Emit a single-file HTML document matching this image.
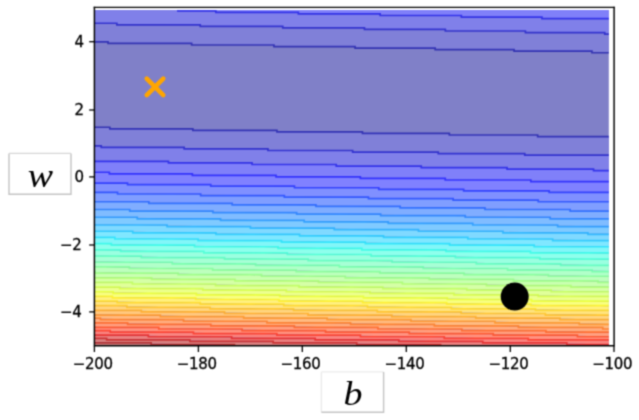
<!DOCTYPE html>
<html><head><meta charset="utf-8"><style>
html,body{margin:0;padding:0;background:#fff;}
body{width:639px;height:420px;position:relative;overflow:hidden;}
.t{font-family:"DejaVu Sans","Liberation Sans",sans-serif;font-size:15px;fill:#000;letter-spacing:-0.3px;stroke:#000;stroke-width:0.3px;}
.v{font-family:"Liberation Serif",serif;font-style:italic;font-size:33px;fill:#000;}
</style></head><body>
<svg width="639" height="420" viewBox="0 0 639 420" style="position:absolute;left:0;top:0">
<defs><filter id="soft" x="0" y="0" width="639" height="420" filterUnits="userSpaceOnUse" color-interpolation-filters="sRGB"><feConvolveMatrix order="3" kernelMatrix="1 3 1 3 9 3 1 3 1" divisor="25" edgeMode="duplicate"/></filter>
<clipPath id="cp"><rect x="94.4" y="10.0" width="514.50" height="335.70"/></clipPath></defs>
<g filter="url(#soft)"><rect x="0" y="0" width="639" height="420" fill="#fff"/>
<g clip-path="url(#cp)">
<polygon fill="#8080c8" points="94.40,10.00 608.90,10.00 608.90,345.70 94.40,345.70"/>
<polygon fill="#8080d8" points="92.40,127.47 114.94,127.90 137.49,128.32 160.03,128.74 182.57,129.16 205.12,129.58 227.66,130.00 250.20,130.41 272.75,130.83 295.29,131.24 317.83,131.65 340.38,132.06 362.92,132.46 385.47,132.87 408.01,133.27 430.55,133.67 453.10,134.07 475.64,134.47 498.18,134.87 520.73,135.26 543.27,135.66 565.81,136.05 588.36,136.44 610.90,136.83 610.90,155.71 588.36,155.31 565.81,154.91 543.27,154.51 520.73,154.11 498.18,153.71 475.64,153.31 453.10,152.90 430.55,152.49 408.01,152.09 385.47,151.68 362.92,151.27 340.38,150.86 317.83,150.44 295.29,150.03 272.75,149.62 250.20,149.20 227.66,148.78 205.12,148.37 182.57,147.95 160.03,147.53 137.49,147.10 114.94,146.68 92.40,146.26"/>
<polygon fill="#8080d8" points="92.40,42.15 114.94,42.57 137.49,42.98 160.03,43.40 182.57,43.82 205.12,44.25 227.66,44.67 250.20,45.09 272.75,45.52 295.29,45.95 317.83,46.38 340.38,46.81 362.92,47.25 385.47,47.68 408.01,48.12 430.55,48.56 453.10,49.00 475.64,49.44 498.18,49.89 520.73,50.33 543.27,50.78 565.81,51.23 588.36,51.68 610.90,52.13 610.90,33.25 588.36,32.81 565.81,32.36 543.27,31.92 520.73,31.48 498.18,31.05 475.64,30.61 453.10,30.17 430.55,29.74 408.01,29.31 385.47,28.87 362.92,28.44 340.38,28.01 317.83,27.58 295.29,27.16 272.75,26.73 250.20,26.31 227.66,25.88 205.12,25.46 182.57,25.04 160.03,24.62 137.49,24.20 114.94,23.78 92.40,23.36"/>
<polygon fill="#8080e9" points="92.40,146.26 114.94,146.68 137.49,147.10 160.03,147.53 182.57,147.95 205.12,148.37 227.66,148.78 250.20,149.20 272.75,149.62 295.29,150.03 317.83,150.44 340.38,150.86 362.92,151.27 385.47,151.68 408.01,152.09 430.55,152.49 453.10,152.90 475.64,153.31 498.18,153.71 520.73,154.11 543.27,154.51 565.81,154.91 588.36,155.31 610.90,155.71 610.90,170.01 588.36,169.61 565.81,169.21 543.27,168.80 520.73,168.40 498.18,167.99 475.64,167.59 453.10,167.18 430.55,166.77 408.01,166.36 385.47,165.95 362.92,165.54 340.38,165.12 317.83,164.71 295.29,164.29 272.75,163.88 250.20,163.46 227.66,163.04 205.12,162.63 182.57,162.21 160.03,161.79 137.49,161.36 114.94,160.94 92.40,160.52"/>
<polygon fill="#8080e9" points="92.40,23.36 114.94,23.78 137.49,24.20 160.03,24.62 182.57,25.04 205.12,25.46 227.66,25.88 250.20,26.31 272.75,26.73 295.29,27.16 317.83,27.58 340.38,28.01 362.92,28.44 385.47,28.87 408.01,29.31 430.55,29.74 453.10,30.17 475.64,30.61 498.18,31.05 520.73,31.48 543.27,31.92 565.81,32.36 588.36,32.81 610.90,33.25 610.90,18.95 588.36,18.51 565.81,18.07 543.27,17.63 520.73,17.20 498.18,16.76 475.64,16.33 453.10,15.90 430.55,15.47 408.01,15.03 385.47,14.60 362.92,14.18 340.38,13.75 317.83,13.32 295.29,12.89 272.75,12.47 250.20,12.04 227.66,11.62 205.12,11.20 182.57,10.78 160.03,10.36 137.49,9.94 114.94,9.52 92.40,9.10"/>
<polygon fill="#8080f9" points="92.40,160.52 114.94,160.94 137.49,161.36 160.03,161.79 182.57,162.21 205.12,162.63 227.66,163.04 250.20,163.46 272.75,163.88 295.29,164.29 317.83,164.71 340.38,165.12 362.92,165.54 385.47,165.95 408.01,166.36 430.55,166.77 453.10,167.18 475.64,167.59 498.18,167.99 520.73,168.40 543.27,168.80 565.81,169.21 588.36,169.61 610.90,170.01 610.90,182.01 588.36,181.60 565.81,181.20 543.27,180.79 520.73,180.38 498.18,179.98 475.64,179.57 453.10,179.16 430.55,178.75 408.01,178.34 385.47,177.92 362.92,177.51 340.38,177.10 317.83,176.68 295.29,176.27 272.75,175.85 250.20,175.43 227.66,175.02 205.12,174.60 182.57,174.18 160.03,173.76 137.49,173.34 114.94,172.91 92.40,172.49"/>
<polygon fill="#8080f9" points="92.40,9.10 114.94,9.52 137.49,9.94 160.03,10.36 182.57,10.78 205.12,11.20 227.66,11.62 250.20,12.04 272.75,12.47 295.29,12.89 317.83,13.32 340.38,13.75 362.92,14.18 385.47,14.60 408.01,15.03 430.55,15.47 453.10,15.90 475.64,16.33 498.18,16.76 520.73,17.20 543.27,17.63 565.81,18.07 588.36,18.51 610.90,18.95 610.90,6.95 588.36,6.52 565.81,6.08 543.27,5.65 520.73,5.21 498.18,4.78 475.64,4.35 453.10,3.92 430.55,3.49 408.01,3.06 385.47,2.63 362.92,2.20 340.38,1.77 317.83,1.35 295.29,0.92 272.75,0.50 250.20,0.07 227.66,-0.35 205.12,-0.77 182.57,-1.19 160.03,-1.61 137.49,-2.03 114.94,-2.45 92.40,-2.87"/>
<polygon fill="#8081ff" points="92.40,172.49 114.94,172.91 137.49,173.34 160.03,173.76 182.57,174.18 205.12,174.60 227.66,175.02 250.20,175.43 272.75,175.85 295.29,176.27 317.83,176.68 340.38,177.10 362.92,177.51 385.47,177.92 408.01,178.34 430.55,178.75 453.10,179.16 475.64,179.57 498.18,179.98 520.73,180.38 543.27,180.79 565.81,181.20 588.36,181.60 610.90,182.01 610.90,192.55 588.36,192.14 565.81,191.73 543.27,191.33 520.73,190.92 498.18,190.51 475.64,190.10 453.10,189.69 430.55,189.28 408.01,188.86 385.47,188.45 362.92,188.04 340.38,187.62 317.83,187.21 295.29,186.79 272.75,186.37 250.20,185.96 227.66,185.54 205.12,185.12 182.57,184.70 160.03,184.28 137.49,183.86 114.94,183.44 92.40,183.01"/>
<polygon fill="#8081ff" points="92.40,-2.87 114.94,-2.45 137.49,-2.03 160.03,-1.61 182.57,-1.19 205.12,-0.77 227.66,-0.35 250.20,0.07 272.75,0.50 295.29,0.92 317.83,1.35 340.38,1.77 362.92,2.20 385.47,2.63 408.01,3.06 430.55,3.49 453.10,3.92 475.64,4.35 498.18,4.78 520.73,5.21 543.27,5.65 565.81,6.08 588.36,6.52 610.90,6.95 610.90,-3.59 588.36,-4.02 565.81,-4.46 543.27,-4.89 520.73,-5.32 498.18,-5.75 475.64,-6.18 453.10,-6.61 430.55,-7.04 408.01,-7.47 385.47,-7.90 362.92,-8.33 340.38,-8.75 317.83,-9.18 295.29,-9.60 272.75,-10.03 250.20,-10.45 227.66,-10.87 205.12,-11.29 182.57,-11.72 160.03,-12.14 137.49,-12.56 114.94,-12.97 92.40,-13.39"/>
<polygon fill="#8090ff" points="92.40,183.01 114.94,183.44 137.49,183.86 160.03,184.28 182.57,184.70 205.12,185.12 227.66,185.54 250.20,185.96 272.75,186.37 295.29,186.79 317.83,187.21 340.38,187.62 362.92,188.04 385.47,188.45 408.01,188.86 430.55,189.28 453.10,189.69 475.64,190.10 498.18,190.51 520.73,190.92 543.27,191.33 565.81,191.73 588.36,192.14 610.90,192.55 610.90,202.06 588.36,201.65 565.81,201.24 543.27,200.83 520.73,200.42 498.18,200.01 475.64,199.60 453.10,199.19 430.55,198.78 408.01,198.37 385.47,197.95 362.92,197.54 340.38,197.12 317.83,196.71 295.29,196.29 272.75,195.87 250.20,195.46 227.66,195.04 205.12,194.62 182.57,194.20 160.03,193.78 137.49,193.36 114.94,192.94 92.40,192.51"/>
<polygon fill="#809eff" points="92.40,192.51 114.94,192.94 137.49,193.36 160.03,193.78 182.57,194.20 205.12,194.62 227.66,195.04 250.20,195.46 272.75,195.87 295.29,196.29 317.83,196.71 340.38,197.12 362.92,197.54 385.47,197.95 408.01,198.37 430.55,198.78 453.10,199.19 475.64,199.60 498.18,200.01 520.73,200.42 543.27,200.83 565.81,201.24 588.36,201.65 610.90,202.06 610.90,210.80 588.36,210.39 565.81,209.98 543.27,209.57 520.73,209.16 498.18,208.75 475.64,208.33 453.10,207.92 430.55,207.51 408.01,207.10 385.47,206.68 362.92,206.27 340.38,205.85 317.83,205.43 295.29,205.02 272.75,204.60 250.20,204.18 227.66,203.76 205.12,203.35 182.57,202.93 160.03,202.51 137.49,202.08 114.94,201.66 92.40,201.24"/>
<polygon fill="#80adff" points="92.40,201.24 114.94,201.66 137.49,202.08 160.03,202.51 182.57,202.93 205.12,203.35 227.66,203.76 250.20,204.18 272.75,204.60 295.29,205.02 317.83,205.43 340.38,205.85 362.92,206.27 385.47,206.68 408.01,207.10 430.55,207.51 453.10,207.92 475.64,208.33 498.18,208.75 520.73,209.16 543.27,209.57 565.81,209.98 588.36,210.39 610.90,210.80 610.90,218.92 588.36,218.51 565.81,218.10 543.27,217.69 520.73,217.28 498.18,216.87 475.64,216.45 453.10,216.04 430.55,215.63 408.01,215.21 385.47,214.80 362.92,214.38 340.38,213.97 317.83,213.55 295.29,213.14 272.75,212.72 250.20,212.30 227.66,211.88 205.12,211.46 182.57,211.04 160.03,210.62 137.49,210.20 114.94,209.78 92.40,209.36"/>
<polygon fill="#80bcff" points="92.40,209.36 114.94,209.78 137.49,210.20 160.03,210.62 182.57,211.04 205.12,211.46 227.66,211.88 250.20,212.30 272.75,212.72 295.29,213.14 317.83,213.55 340.38,213.97 362.92,214.38 385.47,214.80 408.01,215.21 430.55,215.63 453.10,216.04 475.64,216.45 498.18,216.87 520.73,217.28 543.27,217.69 565.81,218.10 588.36,218.51 610.90,218.92 610.90,226.55 588.36,226.14 565.81,225.73 543.27,225.31 520.73,224.90 498.18,224.49 475.64,224.08 453.10,223.66 430.55,223.25 408.01,222.84 385.47,222.42 362.92,222.01 340.38,221.59 317.83,221.17 295.29,220.76 272.75,220.34 250.20,219.92 227.66,219.50 205.12,219.08 182.57,218.66 160.03,218.24 137.49,217.82 114.94,217.40 92.40,216.98"/>
<polygon fill="#80caff" points="92.40,216.98 114.94,217.40 137.49,217.82 160.03,218.24 182.57,218.66 205.12,219.08 227.66,219.50 250.20,219.92 272.75,220.34 295.29,220.76 317.83,221.17 340.38,221.59 362.92,222.01 385.47,222.42 408.01,222.84 430.55,223.25 453.10,223.66 475.64,224.08 498.18,224.49 520.73,224.90 543.27,225.31 565.81,225.73 588.36,226.14 610.90,226.55 610.90,233.75 588.36,233.34 565.81,232.93 543.27,232.52 520.73,232.11 498.18,231.70 475.64,231.28 453.10,230.87 430.55,230.46 408.01,230.04 385.47,229.63 362.92,229.21 340.38,228.79 317.83,228.38 295.29,227.96 272.75,227.54 250.20,227.12 227.66,226.70 205.12,226.28 182.57,225.86 160.03,225.44 137.49,225.02 114.94,224.60 92.40,224.18"/>
<polygon fill="#80d9ff" points="92.40,224.18 114.94,224.60 137.49,225.02 160.03,225.44 182.57,225.86 205.12,226.28 227.66,226.70 250.20,227.12 272.75,227.54 295.29,227.96 317.83,228.38 340.38,228.79 362.92,229.21 385.47,229.63 408.01,230.04 430.55,230.46 453.10,230.87 475.64,231.28 498.18,231.70 520.73,232.11 543.27,232.52 565.81,232.93 588.36,233.34 610.90,233.75 610.90,240.61 588.36,240.20 565.81,239.79 543.27,239.37 520.73,238.96 498.18,238.55 475.64,238.13 453.10,237.72 430.55,237.31 408.01,236.89 385.47,236.48 362.92,236.06 340.38,235.64 317.83,235.23 295.29,234.81 272.75,234.39 250.20,233.97 227.66,233.55 205.12,233.13 182.57,232.71 160.03,232.29 137.49,231.87 114.94,231.45 92.40,231.03"/>
<polygon fill="#80e7ff" points="92.40,231.03 114.94,231.45 137.49,231.87 160.03,232.29 182.57,232.71 205.12,233.13 227.66,233.55 250.20,233.97 272.75,234.39 295.29,234.81 317.83,235.23 340.38,235.64 362.92,236.06 385.47,236.48 408.01,236.89 430.55,237.31 453.10,237.72 475.64,238.13 498.18,238.55 520.73,238.96 543.27,239.37 565.81,239.79 588.36,240.20 610.90,240.61 610.90,247.15 588.36,246.74 565.81,246.33 543.27,245.92 520.73,245.51 498.18,245.09 475.64,244.68 453.10,244.26 430.55,243.85 408.01,243.43 385.47,243.02 362.92,242.60 340.38,242.19 317.83,241.77 295.29,241.35 272.75,240.93 250.20,240.51 227.66,240.10 205.12,239.68 182.57,239.26 160.03,238.84 137.49,238.41 114.94,237.99 92.40,237.57"/>
<polygon fill="#82f6f8" points="92.40,237.57 114.94,237.99 137.49,238.41 160.03,238.84 182.57,239.26 205.12,239.68 227.66,240.10 250.20,240.51 272.75,240.93 295.29,241.35 317.83,241.77 340.38,242.19 362.92,242.60 385.47,243.02 408.01,243.43 430.55,243.85 453.10,244.26 475.64,244.68 498.18,245.09 520.73,245.51 543.27,245.92 565.81,246.33 588.36,246.74 610.90,247.15 610.90,253.43 588.36,253.02 565.81,252.61 543.27,252.19 520.73,251.78 498.18,251.37 475.64,250.95 453.10,250.54 430.55,250.12 408.01,249.71 385.47,249.29 362.92,248.88 340.38,248.46 317.83,248.04 295.29,247.62 272.75,247.21 250.20,246.79 227.66,246.37 205.12,245.95 182.57,245.53 160.03,245.11 137.49,244.69 114.94,244.27 92.40,243.84"/>
<polygon fill="#8effec" points="92.40,243.84 114.94,244.27 137.49,244.69 160.03,245.11 182.57,245.53 205.12,245.95 227.66,246.37 250.20,246.79 272.75,247.21 295.29,247.62 317.83,248.04 340.38,248.46 362.92,248.88 385.47,249.29 408.01,249.71 430.55,250.12 453.10,250.54 475.64,250.95 498.18,251.37 520.73,251.78 543.27,252.19 565.81,252.61 588.36,253.02 610.90,253.43 610.90,259.47 588.36,259.06 565.81,258.64 543.27,258.23 520.73,257.82 498.18,257.40 475.64,256.99 453.10,256.58 430.55,256.16 408.01,255.74 385.47,255.33 362.92,254.91 340.38,254.49 317.83,254.08 295.29,253.66 272.75,253.24 250.20,252.82 227.66,252.40 205.12,251.98 182.57,251.56 160.03,251.14 137.49,250.72 114.94,250.30 92.40,249.88"/>
<polygon fill="#9affe0" points="92.40,249.88 114.94,250.30 137.49,250.72 160.03,251.14 182.57,251.56 205.12,251.98 227.66,252.40 250.20,252.82 272.75,253.24 295.29,253.66 317.83,254.08 340.38,254.49 362.92,254.91 385.47,255.33 408.01,255.74 430.55,256.16 453.10,256.58 475.64,256.99 498.18,257.40 520.73,257.82 543.27,258.23 565.81,258.64 588.36,259.06 610.90,259.47 610.90,265.29 588.36,264.88 565.81,264.47 543.27,264.06 520.73,263.64 498.18,263.23 475.64,262.81 453.10,262.40 430.55,261.98 408.01,261.57 385.47,261.15 362.92,260.73 340.38,260.32 317.83,259.90 295.29,259.48 272.75,259.06 250.20,258.64 227.66,258.23 205.12,257.81 182.57,257.39 160.03,256.97 137.49,256.55 114.94,256.12 92.40,255.70"/>
<polygon fill="#a6ffd5" points="92.40,255.70 114.94,256.12 137.49,256.55 160.03,256.97 182.57,257.39 205.12,257.81 227.66,258.23 250.20,258.64 272.75,259.06 295.29,259.48 317.83,259.90 340.38,260.32 362.92,260.73 385.47,261.15 408.01,261.57 430.55,261.98 453.10,262.40 475.64,262.81 498.18,263.23 520.73,263.64 543.27,264.06 565.81,264.47 588.36,264.88 610.90,265.29 610.90,270.93 588.36,270.51 565.81,270.10 543.27,269.69 520.73,269.27 498.18,268.86 475.64,268.44 453.10,268.03 430.55,267.61 408.01,267.20 385.47,266.78 362.92,266.36 340.38,265.95 317.83,265.53 295.29,265.11 272.75,264.69 250.20,264.28 227.66,263.86 205.12,263.44 182.57,263.02 160.03,262.60 137.49,262.18 114.94,261.75 92.40,261.33"/>
<polygon fill="#b1ffc9" points="92.40,261.33 114.94,261.75 137.49,262.18 160.03,262.60 182.57,263.02 205.12,263.44 227.66,263.86 250.20,264.28 272.75,264.69 295.29,265.11 317.83,265.53 340.38,265.95 362.92,266.36 385.47,266.78 408.01,267.20 430.55,267.61 453.10,268.03 475.64,268.44 498.18,268.86 520.73,269.27 543.27,269.69 565.81,270.10 588.36,270.51 610.90,270.93 610.90,276.38 588.36,275.97 565.81,275.56 543.27,275.15 520.73,274.73 498.18,274.32 475.64,273.90 453.10,273.49 430.55,273.07 408.01,272.65 385.47,272.24 362.92,271.82 340.38,271.40 317.83,270.99 295.29,270.57 272.75,270.15 250.20,269.73 227.66,269.31 205.12,268.89 182.57,268.47 160.03,268.05 137.49,267.63 114.94,267.21 92.40,266.79"/>
<polygon fill="#bdffbd" points="92.40,266.79 114.94,267.21 137.49,267.63 160.03,268.05 182.57,268.47 205.12,268.89 227.66,269.31 250.20,269.73 272.75,270.15 295.29,270.57 317.83,270.99 340.38,271.40 362.92,271.82 385.47,272.24 408.01,272.65 430.55,273.07 453.10,273.49 475.64,273.90 498.18,274.32 520.73,274.73 543.27,275.15 565.81,275.56 588.36,275.97 610.90,276.38 610.90,281.68 588.36,281.27 565.81,280.86 543.27,280.44 520.73,280.03 498.18,279.61 475.64,279.20 453.10,278.78 430.55,278.37 408.01,277.95 385.47,277.54 362.92,277.12 340.38,276.70 317.83,276.28 295.29,275.87 272.75,275.45 250.20,275.03 227.66,274.61 205.12,274.19 182.57,273.77 160.03,273.35 137.49,272.93 114.94,272.51 92.40,272.09"/>
<polygon fill="#c9ffb1" points="92.40,272.09 114.94,272.51 137.49,272.93 160.03,273.35 182.57,273.77 205.12,274.19 227.66,274.61 250.20,275.03 272.75,275.45 295.29,275.87 317.83,276.28 340.38,276.70 362.92,277.12 385.47,277.54 408.01,277.95 430.55,278.37 453.10,278.78 475.64,279.20 498.18,279.61 520.73,280.03 543.27,280.44 565.81,280.86 588.36,281.27 610.90,281.68 610.90,286.84 588.36,286.42 565.81,286.01 543.27,285.60 520.73,285.18 498.18,284.77 475.64,284.35 453.10,283.94 430.55,283.52 408.01,283.10 385.47,282.69 362.92,282.27 340.38,281.85 317.83,281.44 295.29,281.02 272.75,280.60 250.20,280.18 227.66,279.76 205.12,279.34 182.57,278.92 160.03,278.50 137.49,278.08 114.94,277.66 92.40,277.24"/>
<polygon fill="#d5ffa6" points="92.40,277.24 114.94,277.66 137.49,278.08 160.03,278.50 182.57,278.92 205.12,279.34 227.66,279.76 250.20,280.18 272.75,280.60 295.29,281.02 317.83,281.44 340.38,281.85 362.92,282.27 385.47,282.69 408.01,283.10 430.55,283.52 453.10,283.94 475.64,284.35 498.18,284.77 520.73,285.18 543.27,285.60 565.81,286.01 588.36,286.42 610.90,286.84 610.90,291.86 588.36,291.44 565.81,291.03 543.27,290.61 520.73,290.20 498.18,289.79 475.64,289.37 453.10,288.95 430.55,288.54 408.01,288.12 385.47,287.71 362.92,287.29 340.38,286.87 317.83,286.45 295.29,286.03 272.75,285.62 250.20,285.20 227.66,284.78 205.12,284.36 182.57,283.94 160.03,283.52 137.49,283.10 114.94,282.68 92.40,282.25"/>
<polygon fill="#e0ff9a" points="92.40,282.25 114.94,282.68 137.49,283.10 160.03,283.52 182.57,283.94 205.12,284.36 227.66,284.78 250.20,285.20 272.75,285.62 295.29,286.03 317.83,286.45 340.38,286.87 362.92,287.29 385.47,287.71 408.01,288.12 430.55,288.54 453.10,288.95 475.64,289.37 498.18,289.79 520.73,290.20 543.27,290.61 565.81,291.03 588.36,291.44 610.90,291.86 610.90,296.75 588.36,296.34 565.81,295.92 543.27,295.51 520.73,295.09 498.18,294.68 475.64,294.26 453.10,293.85 430.55,293.43 408.01,293.02 385.47,292.60 362.92,292.18 340.38,291.76 317.83,291.35 295.29,290.93 272.75,290.51 250.20,290.09 227.66,289.67 205.12,289.25 182.57,288.83 160.03,288.41 137.49,287.99 114.94,287.57 92.40,287.15"/>
<polygon fill="#ecff8e" points="92.40,287.15 114.94,287.57 137.49,287.99 160.03,288.41 182.57,288.83 205.12,289.25 227.66,289.67 250.20,290.09 272.75,290.51 295.29,290.93 317.83,291.35 340.38,291.76 362.92,292.18 385.47,292.60 408.01,293.02 430.55,293.43 453.10,293.85 475.64,294.26 498.18,294.68 520.73,295.09 543.27,295.51 565.81,295.92 588.36,296.34 610.90,296.75 610.90,301.53 588.36,301.12 565.81,300.70 543.27,300.29 520.73,299.87 498.18,299.46 475.64,299.04 453.10,298.63 430.55,298.21 408.01,297.79 385.47,297.38 362.92,296.96 340.38,296.54 317.83,296.12 295.29,295.70 272.75,295.29 250.20,294.87 227.66,294.45 205.12,294.03 182.57,293.61 160.03,293.19 137.49,292.77 114.94,292.35 92.40,291.92"/>
<polygon fill="#f8fe82" points="92.40,291.92 114.94,292.35 137.49,292.77 160.03,293.19 182.57,293.61 205.12,294.03 227.66,294.45 250.20,294.87 272.75,295.29 295.29,295.70 317.83,296.12 340.38,296.54 362.92,296.96 385.47,297.38 408.01,297.79 430.55,298.21 453.10,298.63 475.64,299.04 498.18,299.46 520.73,299.87 543.27,300.29 565.81,300.70 588.36,301.12 610.90,301.53 610.90,306.20 588.36,305.79 565.81,305.37 543.27,304.96 520.73,304.54 498.18,304.13 475.64,303.71 453.10,303.30 430.55,302.88 408.01,302.46 385.47,302.05 362.92,301.63 340.38,301.21 317.83,300.79 295.29,300.37 272.75,299.96 250.20,299.54 227.66,299.12 205.12,298.70 182.57,298.28 160.03,297.86 137.49,297.44 114.94,297.01 92.40,296.59"/>
<polygon fill="#fff080" points="92.40,296.59 114.94,297.01 137.49,297.44 160.03,297.86 182.57,298.28 205.12,298.70 227.66,299.12 250.20,299.54 272.75,299.96 295.29,300.37 317.83,300.79 340.38,301.21 362.92,301.63 385.47,302.05 408.01,302.46 430.55,302.88 453.10,303.30 475.64,303.71 498.18,304.13 520.73,304.54 543.27,304.96 565.81,305.37 588.36,305.79 610.90,306.20 610.90,310.77 588.36,310.36 565.81,309.94 543.27,309.53 520.73,309.11 498.18,308.70 475.64,308.28 453.10,307.86 430.55,307.45 408.01,307.03 385.47,306.61 362.92,306.20 340.38,305.78 317.83,305.36 295.29,304.94 272.75,304.52 250.20,304.10 227.66,303.69 205.12,303.27 182.57,302.85 160.03,302.43 137.49,302.00 114.94,301.58 92.40,301.16"/>
<polygon fill="#ffe380" points="92.40,301.16 114.94,301.58 137.49,302.00 160.03,302.43 182.57,302.85 205.12,303.27 227.66,303.69 250.20,304.10 272.75,304.52 295.29,304.94 317.83,305.36 340.38,305.78 362.92,306.20 385.47,306.61 408.01,307.03 430.55,307.45 453.10,307.86 475.64,308.28 498.18,308.70 520.73,309.11 543.27,309.53 565.81,309.94 588.36,310.36 610.90,310.77 610.90,315.25 588.36,314.83 565.81,314.42 543.27,314.00 520.73,313.59 498.18,313.17 475.64,312.76 453.10,312.34 430.55,311.92 408.01,311.51 385.47,311.09 362.92,310.67 340.38,310.25 317.83,309.84 295.29,309.42 272.75,309.00 250.20,308.58 227.66,308.16 205.12,307.74 182.57,307.32 160.03,306.90 137.49,306.48 114.94,306.06 92.40,305.64"/>
<polygon fill="#ffd580" points="92.40,305.64 114.94,306.06 137.49,306.48 160.03,306.90 182.57,307.32 205.12,307.74 227.66,308.16 250.20,308.58 272.75,309.00 295.29,309.42 317.83,309.84 340.38,310.25 362.92,310.67 385.47,311.09 408.01,311.51 430.55,311.92 453.10,312.34 475.64,312.76 498.18,313.17 520.73,313.59 543.27,314.00 565.81,314.42 588.36,314.83 610.90,315.25 610.90,319.63 588.36,319.22 565.81,318.80 543.27,318.39 520.73,317.97 498.18,317.56 475.64,317.14 453.10,316.73 430.55,316.31 408.01,315.89 385.47,315.47 362.92,315.06 340.38,314.64 317.83,314.22 295.29,313.80 272.75,313.38 250.20,312.96 227.66,312.55 205.12,312.13 182.57,311.71 160.03,311.28 137.49,310.86 114.94,310.44 92.40,310.02"/>
<polygon fill="#ffc880" points="92.40,310.02 114.94,310.44 137.49,310.86 160.03,311.28 182.57,311.71 205.12,312.13 227.66,312.55 250.20,312.96 272.75,313.38 295.29,313.80 317.83,314.22 340.38,314.64 362.92,315.06 385.47,315.47 408.01,315.89 430.55,316.31 453.10,316.73 475.64,317.14 498.18,317.56 520.73,317.97 543.27,318.39 565.81,318.80 588.36,319.22 610.90,319.63 610.90,323.93 588.36,323.52 565.81,323.11 543.27,322.69 520.73,322.28 498.18,321.86 475.64,321.44 453.10,321.03 430.55,320.61 408.01,320.19 385.47,319.78 362.92,319.36 340.38,318.94 317.83,318.52 295.29,318.10 272.75,317.69 250.20,317.27 227.66,316.85 205.12,316.43 182.57,316.01 160.03,315.59 137.49,315.17 114.94,314.74 92.40,314.32"/>
<polygon fill="#ffba80" points="92.40,314.32 114.94,314.74 137.49,315.17 160.03,315.59 182.57,316.01 205.12,316.43 227.66,316.85 250.20,317.27 272.75,317.69 295.29,318.10 317.83,318.52 340.38,318.94 362.92,319.36 385.47,319.78 408.01,320.19 430.55,320.61 453.10,321.03 475.64,321.44 498.18,321.86 520.73,322.28 543.27,322.69 565.81,323.11 588.36,323.52 610.90,323.93 610.90,328.16 588.36,327.74 565.81,327.33 543.27,326.91 520.73,326.50 498.18,326.08 475.64,325.67 453.10,325.25 430.55,324.83 408.01,324.42 385.47,324.00 362.92,323.58 340.38,323.16 317.83,322.74 295.29,322.33 272.75,321.91 250.20,321.49 227.66,321.07 205.12,320.65 182.57,320.23 160.03,319.81 137.49,319.39 114.94,318.97 92.40,318.55"/>
<polygon fill="#ffad80" points="92.40,318.55 114.94,318.97 137.49,319.39 160.03,319.81 182.57,320.23 205.12,320.65 227.66,321.07 250.20,321.49 272.75,321.91 295.29,322.33 317.83,322.74 340.38,323.16 362.92,323.58 385.47,324.00 408.01,324.42 430.55,324.83 453.10,325.25 475.64,325.67 498.18,326.08 520.73,326.50 543.27,326.91 565.81,327.33 588.36,327.74 610.90,328.16 610.90,332.31 588.36,331.89 565.81,331.48 543.27,331.06 520.73,330.65 498.18,330.23 475.64,329.81 453.10,329.40 430.55,328.98 408.01,328.56 385.47,328.15 362.92,327.73 340.38,327.31 317.83,326.89 295.29,326.47 272.75,326.06 250.20,325.64 227.66,325.22 205.12,324.80 182.57,324.38 160.03,323.96 137.49,323.54 114.94,323.11 92.40,322.69"/>
<polygon fill="#ff9f80" points="92.40,322.69 114.94,323.11 137.49,323.54 160.03,323.96 182.57,324.38 205.12,324.80 227.66,325.22 250.20,325.64 272.75,326.06 295.29,326.47 317.83,326.89 340.38,327.31 362.92,327.73 385.47,328.15 408.01,328.56 430.55,328.98 453.10,329.40 475.64,329.81 498.18,330.23 520.73,330.65 543.27,331.06 565.81,331.48 588.36,331.89 610.90,332.31 610.90,336.38 588.36,335.97 565.81,335.55 543.27,335.14 520.73,334.72 498.18,334.31 475.64,333.89 453.10,333.47 430.55,333.06 408.01,332.64 385.47,332.22 362.92,331.81 340.38,331.39 317.83,330.97 295.29,330.55 272.75,330.13 250.20,329.71 227.66,329.29 205.12,328.87 182.57,328.45 160.03,328.03 137.49,327.61 114.94,327.19 92.40,326.77"/>
<polygon fill="#ff9280" points="92.40,326.77 114.94,327.19 137.49,327.61 160.03,328.03 182.57,328.45 205.12,328.87 227.66,329.29 250.20,329.71 272.75,330.13 295.29,330.55 317.83,330.97 340.38,331.39 362.92,331.81 385.47,332.22 408.01,332.64 430.55,333.06 453.10,333.47 475.64,333.89 498.18,334.31 520.73,334.72 543.27,335.14 565.81,335.55 588.36,335.97 610.90,336.38 610.90,340.39 588.36,339.98 565.81,339.56 543.27,339.15 520.73,338.73 498.18,338.32 475.64,337.90 453.10,337.48 430.55,337.07 408.01,336.65 385.47,336.23 362.92,335.81 340.38,335.40 317.83,334.98 295.29,334.56 272.75,334.14 250.20,333.72 227.66,333.30 205.12,332.88 182.57,332.46 160.03,332.04 137.49,331.62 114.94,331.20 92.40,330.78"/>
<polygon fill="#f98480" points="92.40,330.78 114.94,331.20 137.49,331.62 160.03,332.04 182.57,332.46 205.12,332.88 227.66,333.30 250.20,333.72 272.75,334.14 295.29,334.56 317.83,334.98 340.38,335.40 362.92,335.81 385.47,336.23 408.01,336.65 430.55,337.07 453.10,337.48 475.64,337.90 498.18,338.32 520.73,338.73 543.27,339.15 565.81,339.56 588.36,339.98 610.90,340.39 610.90,344.34 588.36,343.92 565.81,343.51 543.27,343.09 520.73,342.68 498.18,342.26 475.64,341.85 453.10,341.43 430.55,341.01 408.01,340.59 385.47,340.18 362.92,339.76 340.38,339.34 317.83,338.92 295.29,338.50 272.75,338.08 250.20,337.67 227.66,337.25 205.12,336.83 182.57,336.41 160.03,335.99 137.49,335.56 114.94,335.14 92.40,334.72"/>
<polygon fill="#e98080" points="92.40,334.72 114.94,335.14 137.49,335.56 160.03,335.99 182.57,336.41 205.12,336.83 227.66,337.25 250.20,337.67 272.75,338.08 295.29,338.50 317.83,338.92 340.38,339.34 362.92,339.76 385.47,340.18 408.01,340.59 430.55,341.01 453.10,341.43 475.64,341.85 498.18,342.26 520.73,342.68 543.27,343.09 565.81,343.51 588.36,343.92 610.90,344.34 610.90,348.22 588.36,347.81 565.81,347.39 543.27,346.98 520.73,346.56 498.18,346.15 475.64,345.73 453.10,345.31 430.55,344.90 408.01,344.48 385.47,344.06 362.92,343.64 340.38,343.22 317.83,342.81 295.29,342.39 272.75,341.97 250.20,341.55 227.66,341.13 205.12,340.71 182.57,340.29 160.03,339.87 137.49,339.45 114.94,339.03 92.40,338.61"/>
<polygon fill="#d88080" points="92.40,338.61 114.94,339.03 137.49,339.45 160.03,339.87 182.57,340.29 205.12,340.71 227.66,341.13 250.20,341.55 272.75,341.97 295.29,342.39 317.83,342.81 340.38,343.22 362.92,343.64 385.47,344.06 408.01,344.48 430.55,344.90 453.10,345.31 475.64,345.73 498.18,346.15 520.73,346.56 543.27,346.98 565.81,347.39 588.36,347.81 610.90,348.22 610.90,352.05 588.36,351.63 565.81,351.22 543.27,350.80 520.73,350.39 498.18,349.97 475.64,349.55 453.10,349.14 430.55,348.72 408.01,348.30 385.47,347.89 362.92,347.47 340.38,347.05 317.83,346.63 295.29,346.21 272.75,345.79 250.20,345.37 227.66,344.95 205.12,344.53 182.57,344.11 160.03,343.69 137.49,343.27 114.94,342.85 92.40,342.43"/>
<polygon fill="#c88080" points="92.40,342.43 114.94,342.85 137.49,343.27 160.03,343.69 182.57,344.11 205.12,344.53 227.66,344.95 250.20,345.37 272.75,345.79 295.29,346.21 317.83,346.63 340.38,347.05 362.92,347.47 385.47,347.89 408.01,348.30 430.55,348.72 453.10,349.14 475.64,349.55 498.18,349.97 520.73,350.39 543.27,350.80 565.81,351.22 588.36,351.63 610.90,352.05 610.90,355.82 588.36,355.40 565.81,354.99 543.27,354.57 520.73,354.16 498.18,353.74 475.64,353.32 453.10,352.91 430.55,352.49 408.01,352.07 385.47,351.65 362.92,351.24 340.38,350.82 317.83,350.40 295.29,349.98 272.75,349.56 250.20,349.14 227.66,348.72 205.12,348.30 182.57,347.88 160.03,347.46 137.49,347.04 114.94,346.62 92.40,346.20"/>
<path d="M92.40,127.24L109.85,127.24L109.85,128.80L192.85,128.80L192.85,130.35L276.95,130.35L276.95,131.90L362.45,131.90L362.45,133.45L449.35,133.45L449.35,135.00L537.65,135.00L537.65,136.56L610.90,136.56" stroke="#0000a1" stroke-opacity="0.6" stroke-width="1.7" fill="none"/>
<path d="M92.40,41.88L108.05,41.88L108.05,43.44L191.65,43.44L191.65,44.99L273.95,44.99L273.95,46.54L355.05,46.54L355.05,48.09L435.15,48.09L435.15,49.64L514.05,49.64L514.05,51.20L591.95,51.20L591.95,52.75L610.90,52.75" stroke="#0000a1" stroke-opacity="0.6" stroke-width="1.7" fill="none"/>
<path d="M92.40,145.87L101.25,145.87L101.25,147.42L184.15,147.42L184.15,148.97L267.95,148.97L267.95,150.52L352.65,150.52L352.65,152.08L438.25,152.08L438.25,153.63L524.75,153.63L524.75,155.18L610.90,155.18" stroke="#0000c2" stroke-opacity="0.6" stroke-width="1.7" fill="none"/>
<path d="M92.40,23.26L116.85,23.26L116.85,24.81L200.25,24.81L200.25,26.36L282.75,26.36L282.75,27.92L364.45,27.92L364.45,29.47L445.35,29.47L445.35,31.02L525.45,31.02L525.45,32.57L604.75,32.57L604.75,34.12L610.90,34.12" stroke="#0000c2" stroke-opacity="0.6" stroke-width="1.7" fill="none"/>
<path d="M92.40,161.39L168.45,161.39L168.45,162.94L252.05,162.94L252.05,164.49L336.25,164.49L336.25,166.04L421.25,166.04L421.25,167.60L507.05,167.60L507.05,169.15L593.55,169.15L593.55,170.70L610.90,170.70" stroke="#0000e3" stroke-opacity="0.6" stroke-width="1.7" fill="none"/>
<path d="M177.00,10.84L215.85,10.84L215.85,12.40L298.35,12.40L298.35,13.95L380.15,13.95L380.15,15.50L461.35,15.50L461.35,17.05L541.95,17.05L541.95,18.60L610.90,18.60" stroke="#0000e3" stroke-opacity="0.6" stroke-width="1.7" fill="none"/>
<path d="M92.40,172.25L109.35,172.25L109.35,173.80L192.35,173.80L192.35,175.36L276.05,175.36L276.05,176.91L360.35,176.91L360.35,178.46L445.25,178.46L445.25,180.01L530.85,180.01L530.85,181.56L610.90,181.56" stroke="#0000ff" stroke-opacity="0.6" stroke-width="1.7" fill="none"/>
<path d="M92.40,183.12L127.55,183.12L127.55,184.67L210.75,184.67L210.75,186.22L294.45,186.22L294.45,187.77L378.75,187.77L378.75,189.32L463.65,189.32L463.65,190.88L549.15,190.88L549.15,192.43L610.90,192.43" stroke="#0012ff" stroke-opacity="0.6" stroke-width="1.7" fill="none"/>
<path d="M92.40,192.43L117.55,192.43L117.55,193.98L200.65,193.98L200.65,195.53L284.35,195.53L284.35,197.08L368.45,197.08L368.45,198.64L453.15,198.64L453.15,200.19L538.25,200.19L538.25,201.74L610.90,201.74" stroke="#002fff" stroke-opacity="0.6" stroke-width="1.7" fill="none"/>
<path d="M92.40,201.74L148.85,201.74L148.85,203.29L232.15,203.29L232.15,204.84L315.95,204.84L315.95,206.40L400.15,206.40L400.15,207.95L484.95,207.95L484.95,209.50L570.15,209.50L570.15,211.05L610.90,211.05" stroke="#004dff" stroke-opacity="0.6" stroke-width="1.7" fill="none"/>
<path d="M92.40,209.50L129.75,209.50L129.75,211.05L212.95,211.05L212.95,212.60L296.65,212.60L296.65,214.16L380.65,214.16L380.65,215.71L465.25,215.71L465.25,217.26L550.15,217.26L550.15,218.81L610.90,218.81" stroke="#006aff" stroke-opacity="0.6" stroke-width="1.7" fill="none"/>
<path d="M92.40,217.26L137.25,217.26L137.25,218.81L220.55,218.81L220.55,220.36L304.15,220.36L304.15,221.92L388.25,221.92L388.25,223.47L472.75,223.47L472.75,225.02L557.65,225.02L557.65,226.57L610.90,226.57" stroke="#0087ff" stroke-opacity="0.6" stroke-width="1.7" fill="none"/>
<path d="M92.40,225.02L167.05,225.02L167.05,226.57L250.45,226.57L250.45,228.12L334.25,228.12L334.25,229.68L418.45,229.68L418.45,231.23L502.95,231.23L502.95,232.78L587.95,232.78L587.95,234.33L610.90,234.33" stroke="#00a4ff" stroke-opacity="0.6" stroke-width="1.7" fill="none"/>
<path d="M92.40,231.23L132.75,231.23L132.75,232.78L215.95,232.78L215.95,234.33L299.55,234.33L299.55,235.88L383.55,235.88L383.55,237.44L467.85,237.44L467.85,238.99L552.65,238.99L552.65,240.54L610.90,240.54" stroke="#00c1ff" stroke-opacity="0.6" stroke-width="1.7" fill="none"/>
<path d="M92.40,237.44L114.85,237.44L114.85,238.99L198.05,238.99L198.05,240.54L281.55,240.54L281.55,242.09L365.35,242.09L365.35,243.64L449.65,243.64L449.65,245.20L534.15,245.20L534.15,246.75L610.90,246.75" stroke="#00defd" stroke-opacity="0.6" stroke-width="1.7" fill="none"/>
<path d="M92.40,243.64L111.35,243.64L111.35,245.20L194.55,245.20L194.55,246.75L278.05,246.75L278.05,248.30L361.85,248.30L361.85,249.85L445.95,249.85L445.95,251.40L530.45,251.40L530.45,252.96L610.90,252.96" stroke="#12fbe5" stroke-opacity="0.6" stroke-width="1.7" fill="none"/>
<path d="M92.40,249.85L120.65,249.85L120.65,251.40L203.85,251.40L203.85,252.96L287.35,252.96L287.35,254.51L371.15,254.51L371.15,256.06L455.35,256.06L455.35,257.61L539.85,257.61L539.85,259.16L610.90,259.16" stroke="#29ffce" stroke-opacity="0.6" stroke-width="1.7" fill="none"/>
<path d="M92.40,256.06L141.25,256.06L141.25,257.61L224.55,257.61L224.55,259.16L308.15,259.16L308.15,260.72L392.05,260.72L392.05,262.27L476.25,262.27L476.25,263.82L560.75,263.82L560.75,265.37L610.90,265.37" stroke="#41ffb6" stroke-opacity="0.6" stroke-width="1.7" fill="none"/>
<path d="M92.40,262.27L172.25,262.27L172.25,263.82L255.65,263.82L255.65,265.37L339.35,265.37L339.35,266.92L423.25,266.92L423.25,268.48L507.55,268.48L507.55,270.03L592.15,270.03L592.15,271.58L610.90,271.58" stroke="#58ff9f" stroke-opacity="0.6" stroke-width="1.7" fill="none"/>
<path d="M92.40,266.92L129.35,266.92L129.35,268.48L212.65,268.48L212.65,270.03L296.15,270.03L296.15,271.58L379.95,271.58L379.95,273.13L464.05,273.13L464.05,274.68L548.45,274.68L548.45,276.24L610.90,276.24" stroke="#70ff87" stroke-opacity="0.6" stroke-width="1.7" fill="none"/>
<path d="M92.40,271.58L95.05,271.58L95.05,273.13L178.15,273.13L178.15,274.68L261.55,274.68L261.55,276.24L345.25,276.24L345.25,277.79L429.25,277.79L429.25,279.34L513.45,279.34L513.45,280.89L598.05,280.89L598.05,282.44L610.90,282.44" stroke="#87ff70" stroke-opacity="0.6" stroke-width="1.7" fill="none"/>
<path d="M92.40,277.79L151.65,277.79L151.65,279.34L234.95,279.34L234.95,280.89L318.55,280.89L318.55,282.44L402.35,282.44L402.35,284.00L486.45,284.00L486.45,285.55L570.95,285.55L570.95,287.10L610.90,287.10" stroke="#9fff58" stroke-opacity="0.6" stroke-width="1.7" fill="none"/>
<path d="M92.40,282.44L132.35,282.44L132.35,284.00L215.55,284.00L215.55,285.55L299.05,285.55L299.05,287.10L382.85,287.10L382.85,288.65L466.85,288.65L466.85,290.20L551.15,290.20L551.15,291.76L610.90,291.76" stroke="#b6ff41" stroke-opacity="0.6" stroke-width="1.7" fill="none"/>
<path d="M92.40,287.10L119.65,287.10L119.65,288.65L202.85,288.65L202.85,290.20L286.25,290.20L286.25,291.76L369.95,291.76L369.95,293.31L453.95,293.31L453.95,294.86L538.25,294.86L538.25,296.41L610.90,296.41" stroke="#ceff29" stroke-opacity="0.6" stroke-width="1.7" fill="none"/>
<path d="M92.40,291.76L113.15,291.76L113.15,293.31L196.35,293.31L196.35,294.86L279.75,294.86L279.75,296.41L363.45,296.41L363.45,297.96L447.35,297.96L447.35,299.52L531.55,299.52L531.55,301.07L610.90,301.07" stroke="#e5ff12" stroke-opacity="0.6" stroke-width="1.7" fill="none"/>
<path d="M92.40,296.41L112.45,296.41L112.45,297.96L195.65,297.96L195.65,299.52L279.05,299.52L279.05,301.07L362.65,301.07L362.65,302.62L446.65,302.62L446.65,304.17L530.85,304.17L530.85,305.72L610.90,305.72" stroke="#fdef00" stroke-opacity="0.6" stroke-width="1.7" fill="none"/>
<path d="M92.40,301.07L117.15,301.07L117.15,302.62L200.25,302.62L200.25,304.17L283.75,304.17L283.75,305.72L367.45,305.72L367.45,307.28L451.35,307.28L451.35,308.83L535.45,308.83L535.45,310.38L610.90,310.38" stroke="#ffd400" stroke-opacity="0.6" stroke-width="1.7" fill="none"/>
<path d="M92.40,305.72L126.85,305.72L126.85,307.28L210.05,307.28L210.05,308.83L293.55,308.83L293.55,310.38L377.25,310.38L377.25,311.93L461.15,311.93L461.15,313.48L545.35,313.48L545.35,315.04L610.90,315.04" stroke="#ffb900" stroke-opacity="0.6" stroke-width="1.7" fill="none"/>
<path d="M92.40,310.38L141.35,310.38L141.35,311.93L224.55,311.93L224.55,313.48L308.05,313.48L308.05,315.04L391.85,315.04L391.85,316.59L475.75,316.59L475.75,318.14L559.95,318.14L559.95,319.69L610.90,319.69" stroke="#ff9e00" stroke-opacity="0.6" stroke-width="1.7" fill="none"/>
<path d="M92.40,315.04L160.35,315.04L160.35,316.59L243.65,316.59L243.65,318.14L327.15,318.14L327.15,319.69L410.95,319.69L410.95,321.24L494.95,321.24L494.95,322.80L579.25,322.80L579.25,324.35L610.90,324.35" stroke="#ff8300" stroke-opacity="0.6" stroke-width="1.7" fill="none"/>
<path d="M92.40,318.14L100.45,318.14L100.45,319.69L183.55,319.69L183.55,321.24L266.95,321.24L266.95,322.80L350.55,322.80L350.55,324.35L434.35,324.35L434.35,325.90L518.45,325.90L518.45,327.45L602.75,327.45L602.75,329.00L610.90,329.00" stroke="#ff6800" stroke-opacity="0.6" stroke-width="1.7" fill="none"/>
<path d="M92.40,322.80L127.65,322.80L127.65,324.35L210.85,324.35L210.85,325.90L294.35,325.90L294.35,327.45L377.95,327.45L377.95,329.00L461.85,329.00L461.85,330.56L545.95,330.56L545.95,332.11L610.90,332.11" stroke="#ff4d00" stroke-opacity="0.6" stroke-width="1.7" fill="none"/>
<path d="M92.40,327.45L158.75,327.45L158.75,329.00L242.05,329.00L242.05,330.56L325.55,330.56L325.55,332.11L409.25,332.11L409.25,333.66L493.25,333.66L493.25,335.21L577.45,335.21L577.45,336.76L610.90,336.76" stroke="#ff3200" stroke-opacity="0.6" stroke-width="1.7" fill="none"/>
<path d="M92.40,330.56L110.25,330.56L110.25,332.11L193.45,332.11L193.45,333.66L276.85,333.66L276.85,335.21L360.45,335.21L360.45,336.76L444.25,336.76L444.25,338.32L528.25,338.32L528.25,339.87L610.90,339.87" stroke="#ff1700" stroke-opacity="0.6" stroke-width="1.7" fill="none"/>
<path d="M92.40,335.21L148.35,335.21L148.35,336.76L231.65,336.76L231.65,338.32L315.15,338.32L315.15,339.87L398.85,339.87L398.85,341.42L482.75,341.42L482.75,342.97L566.85,342.97L566.85,344.52L610.90,344.52" stroke="#e30000" stroke-opacity="0.6" stroke-width="1.7" fill="none"/>
<path d="M92.40,338.32L106.65,338.32L106.65,339.87L189.85,339.87L189.85,341.42L273.15,341.42L273.15,342.97L356.75,342.97L356.75,344.52L440.55,344.52L440.55,346.08L524.55,346.08L524.55,347.63L608.75,347.63L608.75,349.18L610.90,349.18" stroke="#c20000" stroke-opacity="0.6" stroke-width="1.7" fill="none"/>
<path d="M92.40,342.97L151.15,342.97L151.15,344.52L234.45,344.52L234.45,346.08L317.95,346.08L317.95,347.63L401.65,347.63L401.65,349.18L485.45,349.18L485.45,350.73L569.65,350.73L569.65,352.28L610.90,352.28" stroke="#a10000" stroke-opacity="0.6" stroke-width="1.7" fill="none"/>
</g>
<path d="M146.7,78.60000000000001L163.3,95.2M146.7,95.2L163.3,78.60000000000001" stroke="#ffa500" stroke-width="4.5" stroke-linecap="round" fill="none"/>
<circle cx="514.7" cy="296.6" r="14" fill="#000"/>
<path d="M93.70,7.40H614.80" stroke="#000" stroke-width="1.3" fill="none"/>
<path d="M94.40,6.75V346.40M614.10,6.75V346.40M93.70,345.70H614.80" stroke="#000" stroke-width="1.45" fill="none"/>
<line x1="89.20" y1="41.70" x2="94.40" y2="41.70" stroke="#000" stroke-width="1.3"/>
<text x="83.70" y="42.00" text-anchor="end" dominant-baseline="central" class="t">4</text>
<line x1="89.20" y1="110.00" x2="94.40" y2="110.00" stroke="#000" stroke-width="1.3"/>
<text x="83.70" y="110.30" text-anchor="end" dominant-baseline="central" class="t">2</text>
<line x1="89.20" y1="176.90" x2="94.40" y2="176.90" stroke="#000" stroke-width="1.3"/>
<text x="83.70" y="177.20" text-anchor="end" dominant-baseline="central" class="t">0</text>
<line x1="89.20" y1="245.00" x2="94.40" y2="245.00" stroke="#000" stroke-width="1.3"/>
<text x="81.50" y="245.30" text-anchor="end" dominant-baseline="central" class="t">−2</text>
<line x1="89.20" y1="311.90" x2="94.40" y2="311.90" stroke="#000" stroke-width="1.3"/>
<text x="81.50" y="312.20" text-anchor="end" dominant-baseline="central" class="t">−4</text>
<line x1="94.40" y1="345.70" x2="94.40" y2="352.00" stroke="#000" stroke-width="1.3"/>
<text x="92.70" y="368.80" text-anchor="middle" class="t">−200</text>
<line x1="198.40" y1="345.70" x2="198.40" y2="352.00" stroke="#000" stroke-width="1.3"/>
<text x="196.70" y="368.80" text-anchor="middle" class="t">−180</text>
<line x1="302.30" y1="345.70" x2="302.30" y2="352.00" stroke="#000" stroke-width="1.3"/>
<text x="300.60" y="368.80" text-anchor="middle" class="t">−160</text>
<line x1="406.30" y1="345.70" x2="406.30" y2="352.00" stroke="#000" stroke-width="1.3"/>
<text x="404.60" y="368.80" text-anchor="middle" class="t">−140</text>
<line x1="510.30" y1="345.70" x2="510.30" y2="352.00" stroke="#000" stroke-width="1.3"/>
<text x="508.60" y="368.80" text-anchor="middle" class="t">−120</text>
<line x1="614.00" y1="345.70" x2="614.00" y2="352.00" stroke="#000" stroke-width="1.3"/>
<text x="612.30" y="368.80" text-anchor="middle" class="t">−100</text>
<rect x="9" y="153.4" width="62" height="40.9" fill="#fff"/>
<path d="M9,153.4V194.3H71V153.4" fill="none" stroke="#c4c4c4" stroke-width="1.4"/>
<path d="M9,153.4H71" fill="none" stroke="#d6d6d6" stroke-width="1.4"/>
<text transform="translate(40.4,186.6) scale(1.15,1)" text-anchor="middle" class="v">w</text>
<rect x="321.4" y="371.9" width="62.2" height="40.4" fill="#fff"/>
<path d="M321.4,371.9V412.3M321.4,371.9H383.6" fill="none" stroke="#ebebeb" stroke-width="1.4"/>
<path d="M321.4,412.3H383.6V371.9" fill="none" stroke="#c4c4c4" stroke-width="1.4"/>
<text transform="translate(352.9,405.1) scale(1.15,1)" text-anchor="middle" class="v">b</text>
</g></svg>
</body></html>
